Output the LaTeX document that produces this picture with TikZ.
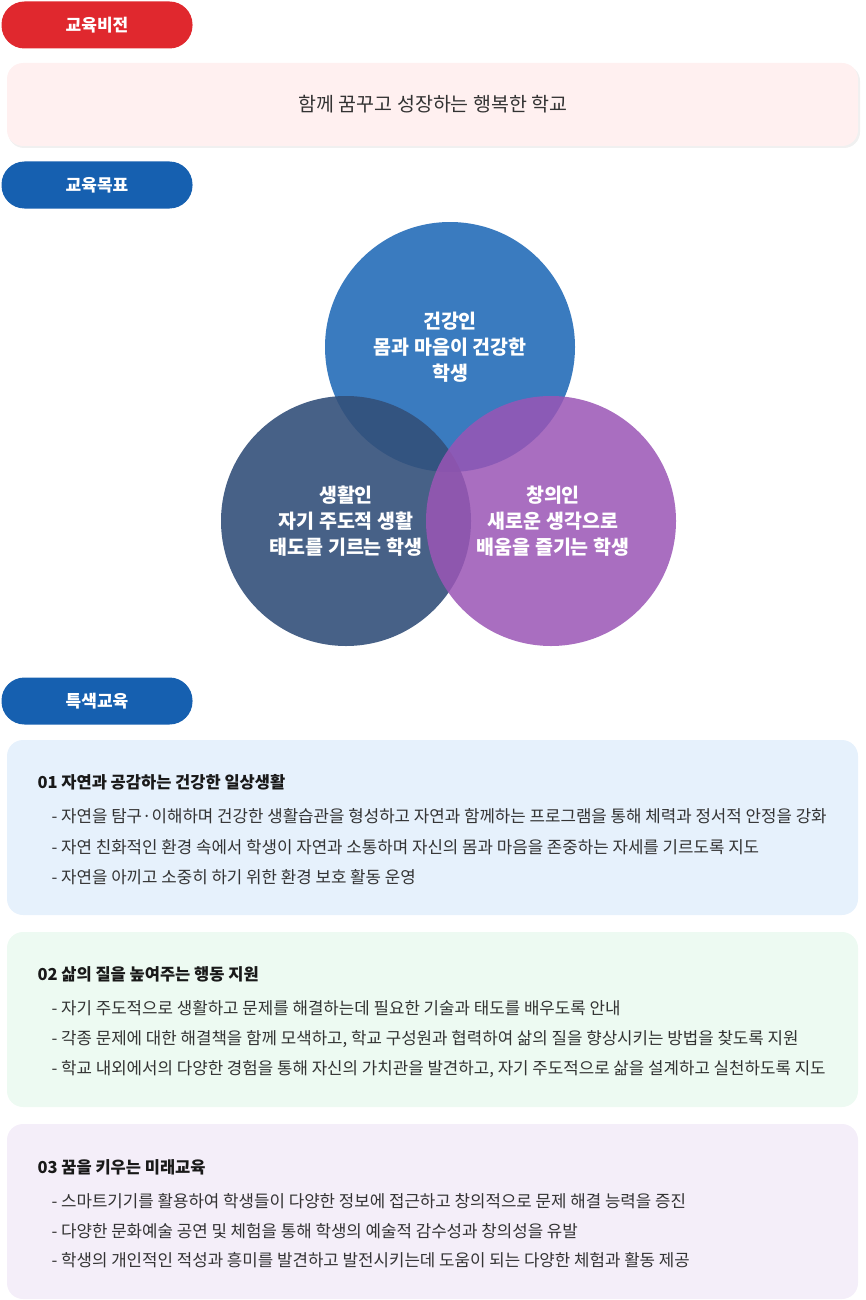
\documentclass[tikz,border=0pt]{standalone}
\usepackage{fontspec}
\setmainfont{Noto Sans CJK KR}
\begin{document}
\begin{tikzpicture}[x=1pt,y=-1pt,
 pill/.style={rounded corners=23pt,minimum width=191pt,minimum height=47pt,text=white,font=\bfseries\fontsize{17}{19}\selectfont,inner sep=0},
 box/.style={rounded corners=16pt,draw=none},
 title/.style={anchor=west,font=\bfseries\fontsize{16.5}{18}\selectfont,text=black!90},
 item/.style={anchor=west,font=\fontsize{16.8}{18}\selectfont,text=black!80},
 ctext/.style={align=center,text=white,font=\bfseries\fontsize{19.5}{26}\selectfont}]
\useasboundingbox (0,0) rectangle (866,1300);
\definecolor{vred}{HTML}{E0282E}
\definecolor{pblue}{HTML}{1660B0}
\definecolor{c1}{HTML}{3A7BBF}
\definecolor{c2}{HTML}{33507A}
\definecolor{c3}{HTML}{9A55B5}
\definecolor{b1}{HTML}{E6F1FC}
\definecolor{b2}{HTML}{EDFAF2}
\definecolor{b3}{HTML}{F4EEF9}
\node[pill,fill=vred] (p1) at (97,25) {교육비전};
\fill[box,fill=black!6] (8,65) rectangle (860,148);
\fill[box,fill=red!6] (7,63) rectangle (858,146);
\node[font=\fontsize{19.5}{21}\selectfont,text=black!80] (v) at (433,104) {함께 꿈꾸고 성장하는 행복한 학교};
\node[pill,fill=pblue] (p2) at (97,185) {교육목표};
\fill[c1] (450,347) circle (125);
\fill[c2,opacity=0.9] (346,521) circle (125);
\fill[c3,opacity=0.85] (551,521) circle (125);
\node[ctext] (t1) at (450,347) {건강인\\몸과 마음이 건강한\\학생};
\node[ctext] (t2) at (346,521) {생활인\\자기 주도적 생활\\태도를 기르는 학생};
\node[ctext] (t3) at (553,521) {창의인\\새로운 생각으로\\배움을 즐기는 학생};
\node[pill,fill=pblue] (p3) at (97,701) {특색교육};
\fill[box,fill=b1] (7,740) rectangle (858,915);
\fill[box,fill=b2] (7,932) rectangle (858,1107);
\fill[box,fill=b3] (7,1124) rectangle (858,1299);
\node[title] (a0) at (34,782) {01 자연과 공감하는 건강한 일상생활};
\node[item] (a1) at (48,816) {- 자연을 탐구·이해하며 건강한 생활습관을 형성하고 자연과 함께하는 프로그램을 통해 체력과 정서적 안정을 강화};
\node[item] (a2) at (48,847) {- 자연 친화적인 환경 속에서 학생이 자연과 소통하며 자신의 몸과 마음을 존중하는 자세를 기르도록 지도};
\node[item] (a3) at (48,877) {- 자연을 아끼고 소중히 하기 위한 환경 보호 활동 운영};
\node[title] (b0) at (34,974) {02 삶의 질을 높여주는 행동 지원};
\node[item] (b1) at (48,1008) {- 자기 주도적으로 생활하고 문제를 해결하는데 필요한 기술과 태도를 배우도록 안내};
\node[item] (b2) at (48,1039) {- 각종 문제에 대한 해결책을 함께 모색하고, 학교 구성원과 협력하여 삶의 질을 향상시키는 방법을 찾도록 지원};
\node[item] (b3) at (48,1069) {- 학교 내외에서의 다양한 경험을 통해 자신의 가치관을 발견하고, 자기 주도적으로 삶을 설계하고 실천하도록 지도};
\node[title] (c0) at (34,1167) {03 꿈을 키우는 미래교육};
\node[item] (c1) at (48,1201) {- 스마트기기를 활용하여 학생들이 다양한 정보에 접근하고 창의적으로 문제 해결 능력을 증진};
\node[item] (c2) at (48,1231) {- 다양한 문화예술 공연 및 체험을 통해 학생의 예술적 감수성과 창의성을 유발};
\node[item] (c3) at (48,1260) {- 학생의 개인적인 적성과 흥미를 발견하고 발전시키는데 도움이 되는 다양한 체험과 활동 제공};
\end{tikzpicture}
\end{document}
